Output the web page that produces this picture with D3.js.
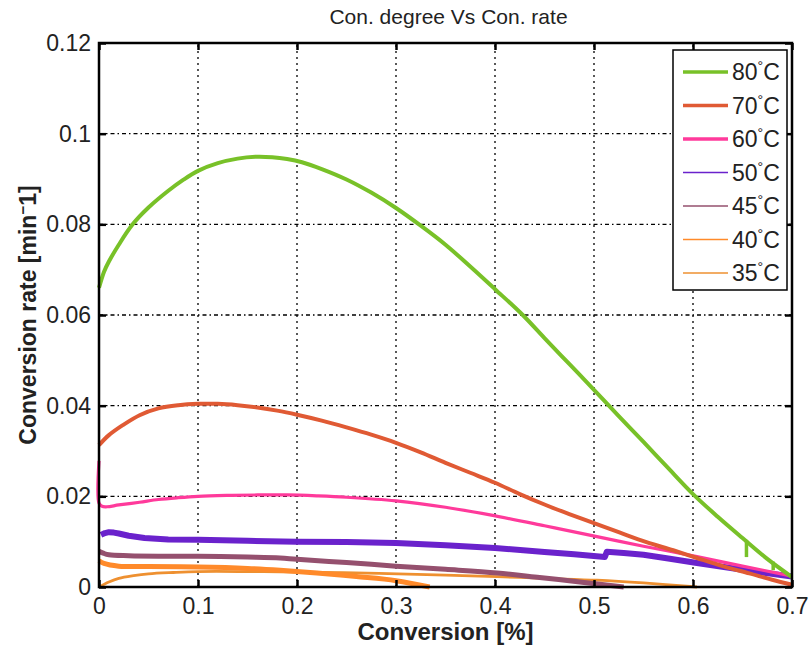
<!DOCTYPE html>
<html><head><meta charset="utf-8">
<script src="https://cdn.jsdelivr.net/npm/d3@7"></script>
<style>body{margin:0;background:#fff}svg{display:block}</style>
</head><body>
<script>
// ---- data ----
const xTicks = [0, 0.1, 0.2, 0.3, 0.4, 0.5, 0.6, 0.7];
const yTicks = [0, 0.02, 0.04, 0.06, 0.08, 0.1, 0.12];
const seriesNames = ["80", "70", "60", "50", "45", "40", "35"];

const conv80 = [0,0.005,0.01,0.02,0.034,0.05,0.07,0.085,0.1,0.12,0.14,0.158,0.175,0.19,0.205,0.225,0.25,0.275,0.3,0.325,0.35,0.375,0.4,0.428,0.45,0.475,0.5,0.525,0.55,0.575,0.6,0.625,0.65,0.675,0.7];
const rate80 = [0.066,0.0695,0.0718,0.0755,0.080,0.0837,0.0874,0.0898,0.0918,0.0935,0.0945,0.0949,0.0948,0.0944,0.0937,0.0922,0.0899,0.0870,0.0836,0.0797,0.0755,0.0707,0.0657,0.060,0.0549,0.0492,0.0435,0.0377,0.0320,0.0262,0.0205,0.0155,0.0108,0.0062,0.0022];
// small downward glitches on the 80°C curve
const glitchConv80 = [0.654, 0.681];
const glitchTop80 = [0.0104, 0.0056];
const glitchBottom80 = [0.0066, 0.0037];

const conv70 = [0,0.01,0.024,0.041,0.06,0.08,0.1,0.12,0.14,0.16,0.18,0.2,0.225,0.25,0.275,0.3,0.325,0.35,0.375,0.4,0.425,0.45,0.475,0.5,0.525,0.553,0.58,0.604,0.63,0.657,0.68,0.7];
const rate70 = [0.0313,0.0335,0.0357,0.0379,0.0394,0.0401,0.0404,0.0404,0.0401,0.0396,0.0389,0.038,0.0367,0.0352,0.0336,0.0318,0.0297,0.0274,0.0252,0.0230,0.0205,0.0182,0.0161,0.0141,0.0121,0.0099,0.0081,0.0064,0.0046,0.0030,0.0016,0.0005];

const conv60 = [0,0,0.003,0.008,0.02,0.041,0.06,0.08,0.1,0.13,0.16,0.19,0.22,0.25,0.3,0.35,0.395,0.45,0.503,0.55,0.604,0.65,0.7];
const rate60 = [0.0278,0.0185,0.0178,0.0177,0.0181,0.0187,0.0193,0.0197,0.0200,0.0202,0.0203,0.0203,0.0201,0.0198,0.0190,0.0176,0.0159,0.0135,0.0111,0.0090,0.0067,0.0046,0.0024];

const conv50 = [0.002,0.006,0.01,0.015,0.02,0.03,0.046,0.07,0.1,0.15,0.2,0.25,0.3,0.35,0.4,0.45,0.48,0.511,0.513,0.53,0.55,0.575,0.604,0.65,0.7];
const rate50 = [0.0115,0.0119,0.0121,0.0120,0.0118,0.0113,0.0108,0.0105,0.0104,0.0102,0.0100,0.0099,0.0097,0.0092,0.0086,0.0077,0.0072,0.0066,0.0078,0.0075,0.0071,0.0063,0.0053,0.0038,0.0023];

const conv45 = [0,0.005,0.01,0.03,0.06,0.1,0.15,0.183,0.2,0.25,0.3,0.35,0.402,0.445,0.49,0.53];
const rate45 = [0.0079,0.0074,0.0071,0.0069,0.0068,0.0068,0.0066,0.0064,0.0061,0.0054,0.0046,0.0039,0.0031,0.0021,0.0010,0.0];

const conv40 = [0,0.005,0.02,0.05,0.1,0.15,0.183,0.22,0.26,0.3,0.334];
const rate40 = [0.0058,0.0052,0.0046,0.0045,0.0044,0.0041,0.0037,0.0031,0.0023,0.0014,0.0];

const conv35 = [0,0.01,0.02,0.035,0.05,0.075,0.1,0.15,0.2,0.283,0.35,0.402,0.45,0.503,0.55,0.604];
const rate35 = [0.0,0.0011,0.0019,0.0025,0.0029,0.0032,0.0034,0.0034,0.0033,0.0030,0.0026,0.0023,0.0019,0.0015,0.0009,0.0];

// ---- styles ----
const colors = ["#78c128", "#e05a34", "#ff3a9b", "#6a22cc", "#95506e", "#ff8a2a", "#ee9030"];
const widths = [4, 4, 3.2, 6, 5, 5, 2.8];
const legendWidths = [3.5, 3.5, 3.5, 1.5, 1.5, 1.5, 1.5];

const W = 809, H = 646;
const m = {left: 99, right: 17, top: 43, bottom: 59};
const svg = d3.select("body").append("svg").attr("width", W).attr("height", H);
const x = d3.scaleLinear().domain([0, 0.7]).range([m.left, W - m.right]);
const y = d3.scaleLinear().domain([0, 0.12]).range([H - m.bottom, m.top]);
const font = "'Liberation Sans', Arial, Helvetica, sans-serif";

// grid
const gx = x.range(), gy = y.range();
svg.append("g").selectAll("line").data(xTicks.slice(1, -1)).join("line")
  .attr("x1", d => x(d)).attr("x2", d => x(d)).attr("y1", gy[0]).attr("y2", gy[1])
  .attr("stroke", "#000").attr("stroke-width", 1.3).attr("stroke-dasharray", "2,4");
svg.append("g").selectAll("line").data(yTicks.slice(1, -1)).join("line")
  .attr("y1", d => y(d)).attr("y2", d => y(d)).attr("x1", gx[0]).attr("x2", gx[1])
  .attr("stroke", "#000").attr("stroke-width", 1.3).attr("stroke-dasharray", "4,3,1.5,3");

// series
const allConv = [conv80, conv70, conv60, conv50, conv45, conv40, conv35];
const allRate = [rate80, rate70, rate60, rate50, rate45, rate40, rate35];
const smooth = d3.line().x(d => x(d[0])).y(d => y(d[1])).curve(d3.curveCatmullRom.alpha(0.5));
const straight = d3.line().x(d => x(d[0])).y(d => y(d[1]));
const order = [6, 5, 4, 3, 2, 1, 0];
order.forEach(i => {
  const pts = allConv[i].map((c, k) => [c, allRate[i][k]]);
  svg.append("path").datum(pts).attr("d", i === 3 ? straight : smooth)
    .attr("fill", "none").attr("stroke", colors[i]).attr("stroke-width", widths[i])
    .attr("stroke-linejoin", "round").attr("stroke-linecap", "butt");
});
svg.append("g").selectAll("line").data(glitchConv80).join("line")
  .attr("x1", d => x(d)).attr("x2", d => x(d))
  .attr("y1", (d, k) => y(glitchTop80[k])).attr("y2", (d, k) => y(glitchBottom80[k]))
  .attr("stroke", colors[0]).attr("stroke-width", 3.5);

// axes (inside ticks, box)
const tickLen = 7;
const axB = svg.append("g").attr("transform", `translate(0,${gy[0]})`)
  .call(d3.axisBottom(x).tickValues(xTicks).tickSize(-tickLen).tickPadding(11).tickFormat(d3.format("")));
const axT = svg.append("g").attr("transform", `translate(0,${gy[1]})`)
  .call(d3.axisTop(x).tickValues(xTicks).tickSize(-tickLen).tickFormat(""));
const axL = svg.append("g").attr("transform", `translate(${gx[0]},0)`)
  .call(d3.axisLeft(y).tickValues(yTicks).tickSize(-tickLen).tickPadding(8).tickFormat(d3.format("")));
const axR = svg.append("g").attr("transform", `translate(${gx[1]},0)`)
  .call(d3.axisRight(y).tickValues(yTicks).tickSize(-tickLen).tickFormat(""));
[axB, axT, axL, axR].forEach(g => {
  g.select(".domain").remove();
  g.selectAll(".tick line").attr("stroke", "#000").attr("stroke-width", 2.5);
  g.selectAll("text").attr("font-family", font).attr("font-size", 23).attr("fill", "#222");
});
svg.append("rect").attr("x", gx[0]).attr("y", gy[1]).attr("width", gx[1] - gx[0]).attr("height", gy[0] - gy[1])
  .attr("fill", "none").attr("stroke", "#000").attr("stroke-width", 2.5);

// title & labels
svg.append("text").attr("x", (gx[0] + gx[1]) / 2 + 3).attr("y", 24).attr("text-anchor", "middle")
  .attr("font-family", font).attr("font-size", 21).attr("fill", "#222").text("Con. degree Vs Con. rate");
svg.append("text").attr("x", (gx[0] + gx[1]) / 2).attr("y", 640).attr("text-anchor", "middle")
  .attr("font-family", font).attr("font-size", 24).attr("font-weight", "bold").attr("fill", "#222").text("Conversion [%]");
const yl = svg.append("text").attr("transform", `translate(36,${(gy[0] + gy[1]) / 2}) rotate(-90)`)
  .attr("text-anchor", "middle").attr("font-family", font).attr("font-size", 23).attr("font-weight", "bold").attr("fill", "#222");
yl.append("tspan").text("Conversion rate [min");
yl.append("tspan").attr("dy", -8).attr("font-size", 15).text("\u2212");
yl.append("tspan").attr("dy", 8).text("1]");

// legend
const lg = svg.append("g");
lg.append("rect").attr("x", 673).attr("y", 50).attr("width", 114).attr("height", 240)
  .attr("fill", "#fff").attr("stroke", "#000").attr("stroke-width", 1.5);
seriesNames.forEach((n, i) => {
  const yy = 72 + i * 33.5;
  lg.append("line").attr("x1", 683).attr("x2", 728).attr("y1", yy).attr("y2", yy)
    .attr("stroke", colors[i]).attr("stroke-width", legendWidths[i]);
  const t = lg.append("text").attr("x", 732).attr("y", yy + 8).attr("font-family", font)
    .attr("font-size", 23).attr("fill", "#222");
  t.append("tspan").text(n);
  t.append("tspan").attr("dy", -9).attr("font-size", 14).text("\u00b0");
  t.append("tspan").attr("dy", 9).text("C");
});
</script>
</body></html>
